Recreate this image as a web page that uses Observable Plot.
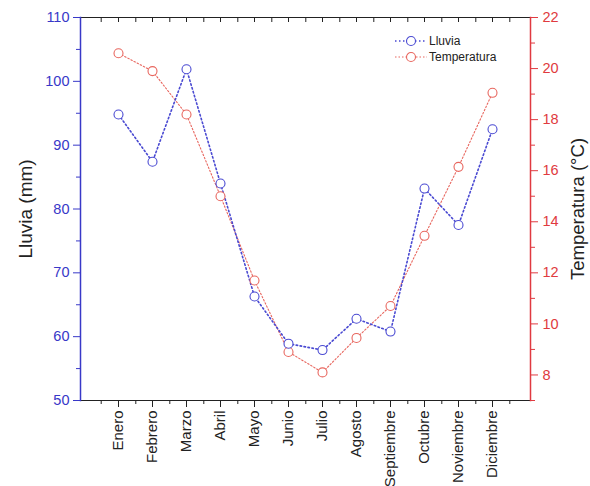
<!DOCTYPE html>
<html>
<head>
<meta charset="utf-8">
<script src="https://cdn.jsdelivr.net/npm/d3@7"></script>
<script src="https://cdn.jsdelivr.net/npm/@observablehq/plot@0.6"></script>
<style>
  body { margin: 0; background: #fff; font-family: "Liberation Sans", Arial, sans-serif; }
  #wrap { position: relative; width: 590px; height: 486px; overflow: hidden; }
  #legend { position: absolute; left: 394px; top: 33px; font-size: 12px; color: #222; line-height: 16px; }
  #legend div { display: flex; align-items: center; }
  #legend svg { margin-right: 1px; }
</style>
</head>
<body>
<div id="wrap"></div>
<script>
const months = ["Enero","Febrero","Marzo","Abril","Mayo","Junio","Julio","Agosto","Septiembre","Octubre","Noviembre","Diciembre"];
const lluvia = [94.8, 87.4, 101.9, 84.0, 66.3, 58.9, 57.9, 62.8, 60.8, 83.2, 77.5, 92.5];
const temperatura = [20.6, 19.9, 18.2, 15.0, 11.7, 8.9, 8.1, 9.45, 10.7, 13.45, 16.15, 19.05];
const lluviaTicks = [50, 60, 70, 80, 90, 100, 110];
const lluviaMinor = [55, 65, 75, 85, 95, 105];
const tempTicks = [8, 10, 12, 14, 16, 18, 20, 22];
const tempMinor = [7, 9, 11, 13, 15, 17, 19, 21];
const lluviaDomain = [50, 110];
const tempDomain = [7, 22];

const blue = "#3838c8";
const blueMark = "#4a4ad2";
const red = "#e03a40";
const redMark = "#e8665e";

// map temperature onto the rainfall scale (dual axis)
const k = (lluviaDomain[1] - lluviaDomain[0]) / (tempDomain[1] - tempDomain[0]);
const t2l = t => lluviaDomain[0] + (t - tempDomain[0]) * k;
const l2t = v => tempDomain[0] + (v - lluviaDomain[0]) / k;

const rows = months.map((m, i) => ({mes: m, lluvia: lluvia[i], temp: t2l(temperatura[i])}));

const W = 590, H = 486, mL = 80, mR = 60, mT = 17, mB = 86;
const step = (W - mL - mR) / (months.length - 1 + 2);

const chart = Plot.plot({
  width: W, height: H,
  marginLeft: mL, marginRight: mR, marginTop: mT, marginBottom: mB,
  style: {fontFamily: "Liberation Sans, Arial, sans-serif", fontSize: "14px", background: "white", overflow: "visible"},
  x: {type: "point", domain: months, padding: 1},
  y: {domain: lluviaDomain},
  marks: [
    // frame edges
    Plot.frame({anchor: "top", stroke: "#222", strokeWidth: 1.2}),
    Plot.frame({anchor: "bottom", stroke: "#222", strokeWidth: 1.2}),
    Plot.frame({anchor: "left", stroke: blue, strokeWidth: 1.5}),
    Plot.frame({anchor: "right", stroke: red, strokeWidth: 1.5}),
    // bottom axis
    Plot.axisX({anchor: "bottom", tickSize: 7, tickRotate: -90, tickPadding: 3, label: null, color: "#222", fontSize: 15}),
    Plot.axisX({anchor: "bottom", tickSize: 4, dx: step / 2, tickFormat: () => "", label: null, color: "#222"}),
    Plot.axisX({anchor: "bottom", ticks: [months[0]], tickSize: 4, dx: -step / 2, tickFormat: () => "", label: null, color: "#222"}),
    // top axis (inward ticks)
    Plot.axisX({anchor: "top", tickSize: -4, tickFormat: () => "", label: null, color: "#222"}),
    Plot.axisX({anchor: "top", tickSize: -4, dx: step / 2, tickFormat: () => "", label: null, color: "#222"}),
    Plot.axisX({anchor: "top", ticks: [months[0]], tickSize: -4, dx: -step / 2, tickFormat: () => "", label: null, color: "#222"}),
    // left axis
    Plot.axisY({anchor: "left", ticks: lluviaTicks, tickSize: 7, tickPadding: 4, label: null, color: blue, fontSize: 14.5}),
    Plot.axisY({anchor: "left", ticks: lluviaMinor, tickSize: 4, tickFormat: () => "", label: null, color: blue}),
    // right axis
    Plot.axisY({anchor: "right", ticks: tempTicks.map(t2l), tickFormat: v => String(Math.round(l2t(v))), tickSize: 7, tickPadding: 5, label: null, color: red, fontSize: 14.5}),
    Plot.axisY({anchor: "right", ticks: tempMinor.map(t2l), tickSize: 4, tickFormat: () => "", label: null, color: red}),
    // axis titles
    Plot.text(["Lluvia (mm)"], {frameAnchor: "left", textAnchor: "middle", lineAnchor: "middle", dx: -55, rotate: -90, fontSize: 19, fill: "#222"}),
    Plot.text(["Temperatura (°C)"], {frameAnchor: "right", textAnchor: "middle", lineAnchor: "middle", dx: 48, rotate: -90, fontSize: 18.5, fill: "#222"}),
    // series
    Plot.line(rows, {x: "mes", y: "temp", stroke: redMark, strokeWidth: 1.1, strokeDasharray: "1.5,2"}),
    Plot.line(rows, {x: "mes", y: "lluvia", stroke: blueMark, strokeWidth: 1.6, strokeDasharray: "1.5,2.5"}),
    Plot.dot(rows, {x: "mes", y: "temp", r: 4.5, stroke: redMark, fill: "white", strokeWidth: 1.1}),
    Plot.dot(rows, {x: "mes", y: "lluvia", r: 4.5, stroke: blueMark, fill: "white", strokeWidth: 1.1})
  ]
});

const wrap = document.getElementById("wrap");
wrap.appendChild(chart);

const legend = document.createElement("div");
legend.id = "legend";
const items = [["Lluvia", blueMark, "1.5,2.5", 1.4], ["Temperatura", redMark, "1.5,2", 1.1]];
for (const [name, col, dash, sw] of items) {
  const row = document.createElement("div");
  row.innerHTML = `<svg width="34" height="12"><line x1="1" x2="33" y1="6" y2="6" stroke="${col}" stroke-width="${sw}" stroke-dasharray="${dash}"/><circle cx="17" cy="6" r="4.5" fill="white" stroke="${col}" stroke-width="1.1"/></svg><span>${name}</span>`;
  legend.appendChild(row);
}
wrap.appendChild(legend);
</script>
</body>
</html>
